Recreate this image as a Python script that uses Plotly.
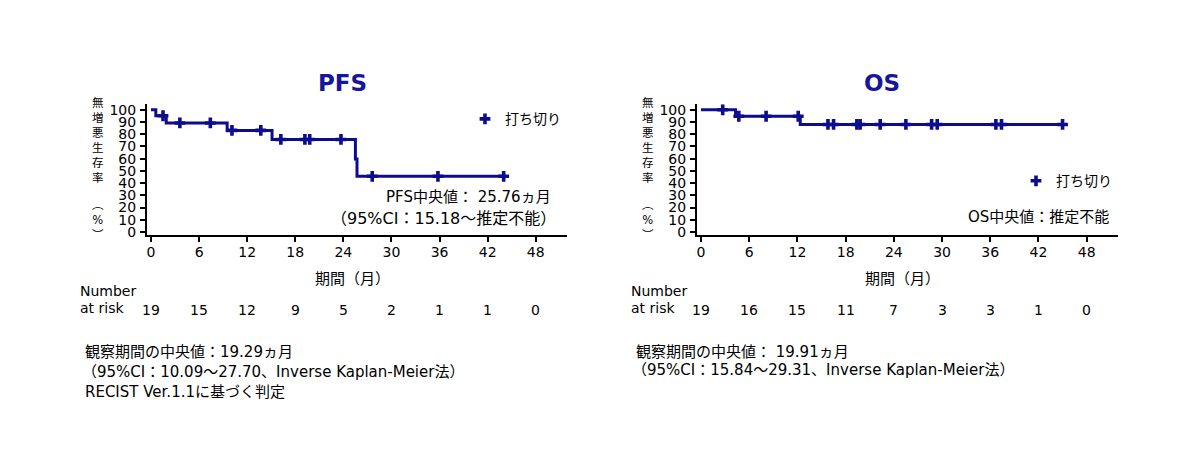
import plotly.graph_objects as go

# ---------------- data ----------------
pfs_step_t = [0, 0.6, 1.9, 9.5, 15.1, 25.5, 25.7, 44.0]
pfs_step_s = [100, 95.1, 89.2, 83.1, 75.7, 59.7, 45.6, 45.6]
pfs_cens_t = [1.5, 3.6, 7.4, 10.1, 13.7, 16.2, 19.2, 19.8, 23.7, 27.6, 35.8, 44.0]
pfs_cens_s = [95.1, 89.2, 89.2, 83.1, 83.1, 75.7, 75.7, 75.7, 75.7, 45.6, 45.6, 45.6]

os_step_t = [0, 4.3, 12.35, 45.0]
os_step_s = [100, 94.7, 88.0, 88.0]
os_cens_t = [2.7, 4.7, 8.1, 12.1, 15.8, 16.5, 19.4, 19.8, 22.3, 25.5, 28.7, 29.4, 36.7, 37.4, 45.0]
os_cens_s = [100, 94.7, 94.7, 94.7, 88.0, 88.0, 88.0, 88.0, 88.0, 88.0, 88.0, 88.0, 88.0, 88.0, 88.0]

risk_times = [0, 6, 12, 18, 24, 30, 36, 42, 48]
pfs_at_risk = [19, 15, 12, 9, 5, 2, 1, 1, 0]
os_at_risk = [19, 16, 15, 11, 7, 3, 3, 1, 0]

x_ticks = [0, 6, 12, 18, 24, 30, 36, 42, 48]
y_ticks = [0, 10, 20, 30, 40, 50, 60, 70, 80, 90, 100]
y_title_main = ["無", "増", "悪", "生", "存", "率"]
y_title_unit = ["︵", "%", "︶"]

# ---------------- style ----------------
W, H = 1201, 470
NAVY = "#0c0c8c"
TITLE_NAVY = "#16169a"
FONT = "DejaVu Sans, Noto Sans CJK JP, sans-serif"


def px(x):
    return x / W


def py(y):
    return 1 - y / H


fig = go.Figure()

# PFS
fig.add_trace(go.Scatter(x=pfs_step_t, y=pfs_step_s, mode="lines", line=dict(color=NAVY, width=3, shape="hv"),
                         showlegend=False, xaxis="x", yaxis="y", hoverinfo="skip"))
fig.add_trace(go.Scatter(x=pfs_cens_t, y=pfs_cens_s, mode="markers", name="打ち切り",
                         marker=dict(symbol="cross", size=9, color=NAVY, line=dict(width=0)),
                         showlegend=True, legend="legend", xaxis="x", yaxis="y"))
# OS
fig.add_trace(go.Scatter(x=os_step_t, y=os_step_s, mode="lines", line=dict(color=NAVY, width=3, shape="hv"),
                         showlegend=False, xaxis="x2", yaxis="y2", hoverinfo="skip"))
fig.add_trace(go.Scatter(x=os_cens_t, y=os_cens_s, mode="markers", name="打ち切り",
                         marker=dict(symbol="cross", size=9, color=NAVY, line=dict(width=0)),
                         showlegend=True, legend="legend2", xaxis="x2", yaxis="y2"))

xcommon = dict(range=[-0.5, 51.9], tickvals=x_ticks, showline=True, linecolor="black", linewidth=2,
               ticks="outside", ticklen=5, tickwidth=2, tickcolor="black", showgrid=False, zeroline=False,
               tickfont=dict(family=FONT, size=14, color="black"), ticklabelstandoff=-2, fixedrange=True)
ycommon = dict(range=[-2.4, 104.5], tickvals=y_ticks, showline=True, linecolor="black", linewidth=2,
               ticks="outside", ticklen=5, tickwidth=2, tickcolor="black", showgrid=False, zeroline=False,
               tickfont=dict(family=FONT, size=14, color="black"), ticklabelstandoff=1, fixedrange=True)

fig.update_layout(
    width=W, height=H, autosize=False,
    margin=dict(l=0, r=0, t=0, b=0),
    paper_bgcolor="white", plot_bgcolor="white",
    font=dict(family=FONT, color="black"),
    xaxis=dict(domain=[px(147), px(567)], anchor="y", **xcommon),
    yaxis=dict(domain=[py(236), py(103)], anchor="x", **ycommon),
    xaxis2=dict(domain=[px(697), px(1118)], anchor="y2", **xcommon),
    yaxis2=dict(domain=[py(236), py(103)], anchor="x2", **ycommon),
    legend=dict(x=px(465), y=py(102), xanchor="left", yanchor="top", bgcolor="rgba(0,0,0,0)",
                font=dict(family=FONT, size=14, color="black"), itemwidth=30),
    legend2=dict(x=px(1016), y=py(165), xanchor="left", yanchor="top", bgcolor="rgba(0,0,0,0)",
                 font=dict(family=FONT, size=14, color="black"), itemwidth=30),
)

ann = []


def text(x, y, t, size=14, xanchor="left", family=FONT, color="black", yanchor="middle", **kw):
    ann.append(dict(x=px(x), y=py(y), xref="paper", yref="paper", text=t, showarrow=False,
                    xanchor=xanchor, yanchor=yanchor, font=dict(family=family, size=size, color=color), **kw))


# Titles
text(342, 81, "<b>PFS</b>", size=23, xanchor="center", color=TITLE_NAVY)
text(882, 81, "<b>OS</b>", size=23, xanchor="center", color=TITLE_NAVY)

# Y titles (vertical, stacked characters)
for x0 in (98, 648):
    text(x0, 93, "<br>".join(y_title_main), size=11.5, xanchor="center", yanchor="top")
    text(x0, 196, "<br>".join(y_title_unit), size=11.5, xanchor="center", yanchor="top")

# X titles
text(352, 281, "期間（月）", size=15, xanchor="center")
text(902, 281, "期間（月）", size=15, xanchor="center")

# Median annotations
text(553, 197, "PFS中央値：&nbsp;25.76ヵ月", size=15, xanchor="right")
text(558, 219, "（95%CI：15.18～推定不能）", size=16, xanchor="right")
text(1111, 218, "OS中央値：推定不能", size=15, xanchor="right")

# Number at risk
for x0 in (78, 629):
    text(x0, 293, "Number", size=14)
    text(x0, 310, "at risk", size=14)
for t, n in zip(risk_times, pfs_at_risk):
    ann.append(dict(x=t, y=py(312), xref="x", yref="paper", text=str(n), showarrow=False,
                    xanchor="center", yanchor="middle", font=dict(family=FONT, size=14, color="black")))
for t, n in zip(risk_times, os_at_risk):
    ann.append(dict(x=t, y=py(312), xref="x2", yref="paper", text=str(n), showarrow=False,
                    xanchor="center", yanchor="middle", font=dict(family=FONT, size=14, color="black")))

# Footnotes
text(83, 355, "観察期間の中央値：19.29ヵ月", size=15)
text(80, 375, "（95%CI：10.09～27.70、Inverse Kaplan-Meier法）", size=15)
text(83, 396, "RECIST Ver.1.1に基づく判定", size=15)
text(634, 355, "観察期間の中央値：&nbsp;19.91ヵ月", size=15)
text(630, 373, "（95%CI：15.84～29.31、Inverse Kaplan-Meier法）", size=15)

fig.update_layout(annotations=ann)

fig.write_html("out.html", config={"displayModeBar": False},
               post_script="document.body.style.margin='0';")
